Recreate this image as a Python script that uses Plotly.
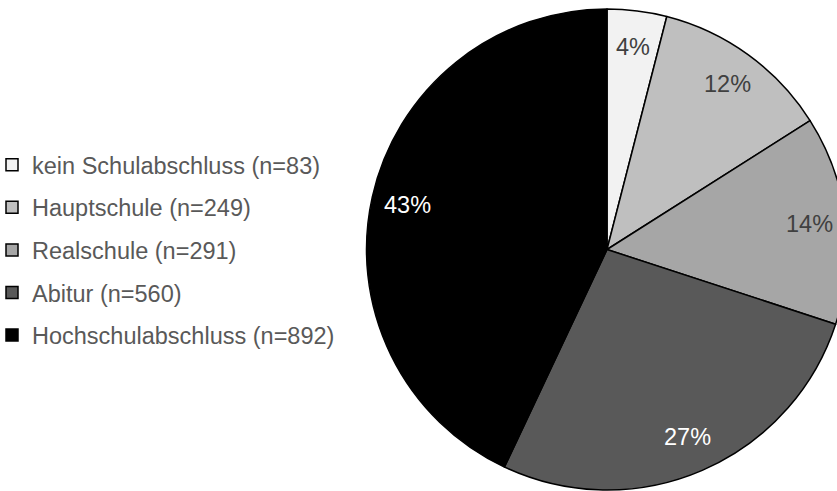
import math
import plotly.graph_objects as go

# ---- data ----
categories = ["kein Schulabschluss", "Hauptschule", "Realschule", "Abitur", "Hochschulabschluss"]
counts = [83, 249, 291, 560, 892]

# ---- style ----
colors = ["#f2f2f2", "#bfbfbf", "#a6a6a6", "#595959", "#000000"]
label_colors = ["#404040", "#404040", "#404040", "#ffffff", "#ffffff"]
FONT = "Arial, 'Liberation Sans', sans-serif"
FS = 23.5
W, H = 850, 491

# pie placement in pixels
px0, px1 = 366, 848
py_top, py_bot = 9, 490
dom_x = [px0 / W, px1 / W]
dom_y = [1 - py_bot / H, 1 - py_top / H]

fig = go.Figure()
fig.add_trace(go.Pie(
    labels=categories, values=counts, sort=False, direction="clockwise", rotation=0,
    marker=dict(colors=colors, line=dict(color="black", width=1.5)),
    textinfo="none", showlegend=False, domain=dict(x=dom_x, y=dom_y),
    hoverinfo="label+value+percent",
))

for name, n, c in zip(categories, counts, colors):
    fig.add_trace(go.Scatter(
        x=[None], y=[None], mode="markers", name=f"{name} (n={n})", legendgroup=name,
        marker=dict(symbol="square", size=12, color=c, line=dict(color="black", width=1.5)),
        hoverinfo="skip",
    ))

# percentage labels placed along each slice's bisector
total = sum(counts)
cx = (px0 + px1) / 2
cy = (py_top + py_bot) / 2
R = min(px1 - px0, py_bot - py_top) / 2
rl = 0.85 * R
cum = 0
annotations = []
for n, lc in zip(counts, label_colors):
    mid = (cum + n / 2) / total
    cum += n
    th = 2 * math.pi * mid
    x = cx + rl * math.sin(th)
    y = cy - rl * math.cos(th)
    annotations.append(dict(
        x=x / W, y=1 - y / H, xref="paper", yref="paper", showarrow=False,
        text=f"{round(n / total * 100)}%", font=dict(family=FONT, size=FS, color=lc),
        xanchor="center", yanchor="middle",
    ))

fig.update_layout(
    width=W, height=H, margin=dict(l=0, r=0, t=0, b=0, autoexpand=False),
    paper_bgcolor="white", plot_bgcolor="white",
    xaxis=dict(visible=False), yaxis=dict(visible=False),
    annotations=annotations,
    legend=dict(
        x=-8 / W, xanchor="left", y=1 - 250 / H, yanchor="middle",
        font=dict(family=FONT, size=FS, color="#595959"),
        tracegroupgap=9, bgcolor="rgba(0,0,0,0)",
    ),
    showlegend=True,
)

fig.write_html("out.html")
